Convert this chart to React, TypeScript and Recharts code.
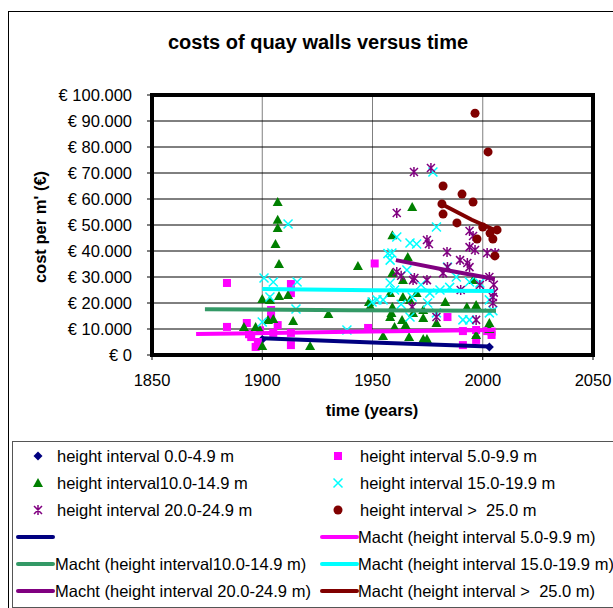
import React from 'react';
import { ScatterChart, Scatter, XAxis, YAxis, CartesianGrid, ReferenceArea } from 'recharts';

// points per height interval: [year, cost per m']
const h0to5 = [[1900, 6000], [2003, 3100]];
const h5to10 = [
  [1884, 27700], [1884, 10800], [1893, 12300], [1894, 8000], [1895, 6900], [1897, 3100], [1898, 5000],
  [1899, 9500], [1904, 17300], [1904, 14600], [1905, 8500], [1907, 11500], [1913, 27300], [1913, 23800],
  [1913, 8500], [1913, 3800], [1948, 10400], [1951, 35200], [1984, 14600], [1991, 9200], [1991, 3800],
  [1997, 9600], [1997, 5800], [2002, 9200], [2004, 7700], [2004, 9000],
];
const h10to15 = [
  [1907, 58800], [1907, 52000], [1907, 48800], [1906, 42700], [1907.6, 35000], [1943.4, 34200],
  [1900, 21500], [1903.5, 21200], [1907.6, 22700], [1911.7, 23100], [1914, 13100], [1891.7, 10800],
  [1897, 10800], [1899, 9500], [1902.6, 13500], [1905, 13800], [1900, 3500], [1921.7, 3500],
  [1930, 15800], [1948.4, 20400], [1949, 18800], [1968, 56900], [1959, 46100], [1966, 37700],
  [1954.8, 7300], [1966.6, 6900], [1973, 6200], [1974.7, 6200], [1997, 7700], [1992.8, 18500],
  [1997, 19200], [2003, 12300], [1995.6, 28800], [1973, 17300], [1983, 20400], [1959, 31500],
  [1963.8, 28800], [1958, 23800], [1963.8, 22300], [1959, 18500], [1967, 21200], [1958.6, 16200],
  [1963.4, 13500], [1968.4, 16200], [1970, 23800], [1965, 11500], [1960, 10800], [1958, 14600],
  [1979, 12300], [1973, 14200], [2003, 10000],
];
const h15to20 = [
  [1911.7, 50400], [1900.8, 29600], [1905, 28100], [1915.8, 28100], [1903.5, 22300], [1915.3, 17700],
  [1900, 12700], [1938.4, 9600], [1949.8, 20400], [1977.4, 70400], [1979, 49200], [1961, 45400],
  [1967, 43100], [1970, 42700], [1958.8, 39200], [1958, 36500], [1965.6, 32700], [1958, 27700],
  [1952, 21200], [1954.8, 21200], [1968, 22300], [1976, 23800], [1980.6, 25000], [1984, 33800],
  [1988, 30000], [1994, 28100], [1998.7, 27700], [2003, 21200], [1967, 14600], [1979, 16200],
  [1991, 13500], [1994, 13500], [2003, 16200], [2004.6, 17000], [1957, 39000], [1960, 25000],
  [1963, 19500], [1972, 27000], [1975, 20000], [1985, 26000],
];
const h20to25 = [
  [1968.8, 70400], [1976.5, 71900], [1961, 54600], [1974.7, 44200], [1975.6, 42700], [1983.8, 39600],
  [1994, 47700], [1995.6, 45800], [1996.5, 40400], [1994, 41500], [2002, 39200], [2005.6, 39200],
  [1989.7, 36500], [1993, 35400], [1994, 33800], [1961, 31900], [1969, 29600], [1974.7, 28800],
  [1984, 33800], [1990, 25000], [2003, 30000], [2004.6, 22300], [2004.6, 20000], [1979, 14600],
  [1997, 13500], [1968, 18500], [1982, 31500], [1998.7, 26900], [1968.4, 28800], [1963, 30500],
  [2005, 24000], [2005, 27000],
];
const h25up = [
  [1996.5, 93000], [2002.4, 78100], [1982, 65000], [1990.6, 61900], [1995.6, 58800], [1981.5, 58100],
  [1982, 54200], [1988.3, 50800], [2000, 49200], [2006.5, 48100], [2003.3, 46900], [2004.6, 44600],
  [1997.4, 44600], [2005.5, 38100],
];

// power ("Macht") trend lines
const trend0to5 = [[1900, 6400], [1950, 4800], [2003, 3300]];
const trend5to10 = [[1870, 8100], [1940, 8900], [2005, 9600]];
const trend10to15 = [[1874, 17600], [1940, 17200], [2006, 17000]];
const trend15to20 = [[1900, 25400], [1950, 24900], [2005, 24600]];
const trend20to25 = [[1960.6, 36500], [1985, 32400], [2005.5, 29200]];
const trend25up = [[1981.5, 58000], [1995, 52000], [2006.5, 47700]];

const xTicks = [1850, 1900, 1950, 2000, 2050];
const yTicks = [0, 10000, 20000, 30000, 40000, 50000, 60000, 70000, 80000, 90000, 100000];

const toPts = (arr: number[][]) => arr.map(([x, y]) => ({ x, y }));
const euro = (v: number) => '€ ' + (v === 0 ? '0' : v.toLocaleString('de-DE'));

const FONT = '"Liberation Sans", Arial, sans-serif';
const FS = 16.5;
const C = { navy: '#000080', mag: '#FF00FF', green: '#008000', cyan: '#00FFFF', purple: '#800080', red: '#800000', sea: '#339966' };

const Diamond = ({ cx, cy }: any) => <path d={`M${cx},${cy - 4.5}L${cx + 4.5},${cy}L${cx},${cy + 4.5}L${cx - 4.5},${cy}Z`} fill={C.navy} />;
const Square = ({ cx, cy }: any) => <rect x={cx - 4} y={cy - 4} width={8} height={8} fill={C.mag} />;
const Tri = ({ cx, cy }: any) => <path d={`M${cx},${cy - 5}L${cx + 5},${cy + 4}L${cx - 5},${cy + 4}Z`} fill={C.green} />;
const Cross = ({ cx, cy }: any) => (
  <path d={`M${cx - 4.5},${cy - 4.5}L${cx + 4.5},${cy + 4.5}M${cx + 4.5},${cy - 4.5}L${cx - 4.5},${cy + 4.5}`} stroke={C.cyan} strokeWidth={1.5} />
);
const Star = ({ cx, cy }: any) => (
  <path d={`M${cx - 4},${cy - 4}L${cx + 4},${cy + 4}M${cx + 4},${cy - 4}L${cx - 4},${cy + 4}M${cx},${cy - 5}L${cx},${cy + 5}`} stroke={C.purple} strokeWidth={1.5} />
);
const Dot = ({ cx, cy }: any) => <circle cx={cx} cy={cy} r={4.5} fill={C.red} />;
const NoMark = () => <g />;

const legendMarks: [string, (p: any) => React.ReactElement][] = [
  ['height interval 0.0-4.9 m', Diamond],
  ['height interval 5.0-9.9 m', Square],
  ['height interval10.0-14.9 m', Tri],
  ['height interval 15.0-19.9 m', Cross],
  ['height interval 20.0-24.9 m', Star],
  ['height interval >  25.0 m', Dot],
];
const legendLines: [string, string][] = [
  ['', C.navy],
  ['Macht (height interval 5.0-9.9 m)', C.mag],
  ['Macht (height interval10.0-14.9 m)', C.sea],
  ['Macht (height interval 15.0-19.9 m)', C.cyan],
  ['Macht (height interval 20.0-24.9 m)', C.purple],
  ['Macht (height interval >  25.0 m)', C.red],
];

const rowY = [456, 483, 510, 537, 564, 591];

export default function App() {
  const txt = { position: 'absolute' as const, fontFamily: FONT, fontSize: FS, lineHeight: '20px', color: '#000', whiteSpace: 'pre' as const };
  return (
    <div style={{ position: 'absolute', left: 0, top: 0, width: 613, height: 608, overflow: 'hidden', background: '#fff' }}>
      <div style={{ position: 'absolute', left: 8, top: 11, width: 640, height: 640, border: '1px solid #000' }} />
      <div style={{ ...txt, left: 0, width: 636, top: 30, lineHeight: '24px', textAlign: 'center', fontWeight: 'bold', fontSize: 20 }}>
        costs of quay walls versus time
      </div>
      <div style={{ position: 'absolute', left: 0, top: 0 }}>
        <ScatterChart width={613} height={440} margin={{ top: 95, right: 20, bottom: 0, left: 0 }}>
          <CartesianGrid horizontal={false} stroke="#808080" strokeWidth={1} />
          <CartesianGrid vertical={false} stroke="#000" strokeWidth={1} />
          <XAxis
            type="number" dataKey="x" domain={[1850, 2050]} ticks={xTicks} height={85}
            axisLine={false} tickLine={{ stroke: '#000' }} tickSize={5} tickMargin={14}
            tick={{ fill: '#000', fontSize: FS, fontFamily: FONT }}
          />
          <YAxis
            type="number" dataKey="y" domain={[0, 100000]} ticks={yTicks} width={152}
            axisLine={false} tickLine={{ stroke: '#000' }} tickSize={5} tickMargin={15}
            tickFormatter={euro} tick={{ fill: '#000', fontSize: FS, fontFamily: FONT }}
          />
          <ReferenceArea x1={1850} x2={2050} y1={0} y2={100000} fill="none" stroke="#000" strokeWidth={4} />
          <Scatter data={toPts(h0to5)} shape={Diamond} isAnimationActive={false} />
          <Scatter data={toPts(h5to10)} shape={Square} isAnimationActive={false} />
          <Scatter data={toPts(h10to15)} shape={Tri} isAnimationActive={false} />
          <Scatter data={toPts(h15to20)} shape={Cross} isAnimationActive={false} />
          <Scatter data={toPts(h20to25)} shape={Star} isAnimationActive={false} />
          <Scatter data={toPts(h25up)} shape={Dot} isAnimationActive={false} />
          <Scatter data={toPts(trend0to5)} shape={NoMark} line={{ stroke: C.navy, strokeWidth: 4 }} isAnimationActive={false} />
          <Scatter data={toPts(trend5to10)} shape={NoMark} line={{ stroke: C.mag, strokeWidth: 4 }} isAnimationActive={false} />
          <Scatter data={toPts(trend10to15)} shape={NoMark} line={{ stroke: C.sea, strokeWidth: 4 }} isAnimationActive={false} />
          <Scatter data={toPts(trend15to20)} shape={NoMark} line={{ stroke: C.cyan, strokeWidth: 4 }} isAnimationActive={false} />
          <Scatter data={toPts(trend20to25)} shape={NoMark} line={{ stroke: C.purple, strokeWidth: 4 }} isAnimationActive={false} />
          <Scatter data={toPts(trend25up)} shape={NoMark} line={{ stroke: C.red, strokeWidth: 4 }} isAnimationActive={false} />
        </ScatterChart>
      </div>
      <div style={{ ...txt, left: -20, top: 217, width: 120, textAlign: 'center', fontWeight: 'bold', transform: 'rotate(-90deg)', transformOrigin: '60px 10px' }}>
        cost per m' (€)
      </div>
      <div style={{ ...txt, left: 272, width: 200, top: 400, textAlign: 'center', fontWeight: 'bold' }}>time (years)</div>

      <div style={{ position: 'absolute', left: 12, top: 441, width: 640, height: 165, border: '1px solid #555' }} />
      <svg width={613} height={608} style={{ position: 'absolute', left: 0, top: 0 }}>
        {legendMarks.map(([, M], i) => (
          <M key={i} cx={i % 2 === 0 ? 38 : 338} cy={rowY[Math.floor(i / 2)]} />
        ))}
        {legendLines.map(([, col], i) => {
          const x0 = i % 2 === 0 ? 18 : 322;
          const y = rowY[3 + Math.floor(i / 2)];
          return <line key={i} x1={x0} x2={x0 + 35} y1={y} y2={y} stroke={col} strokeWidth={4} strokeLinecap="round" />;
        })}
      </svg>
      {legendMarks.map(([label], i) => (
        <div key={label} style={{ ...txt, left: i % 2 === 0 ? 57 : 360, top: rowY[Math.floor(i / 2)] - 10 }}>{label}</div>
      ))}
      {legendLines.map(([label], i) => (
        <div key={i} style={{ ...txt, left: i % 2 === 0 ? 55 : 358, top: rowY[3 + Math.floor(i / 2)] - 10 }}>{label}</div>
      ))}
    </div>
  );
}
